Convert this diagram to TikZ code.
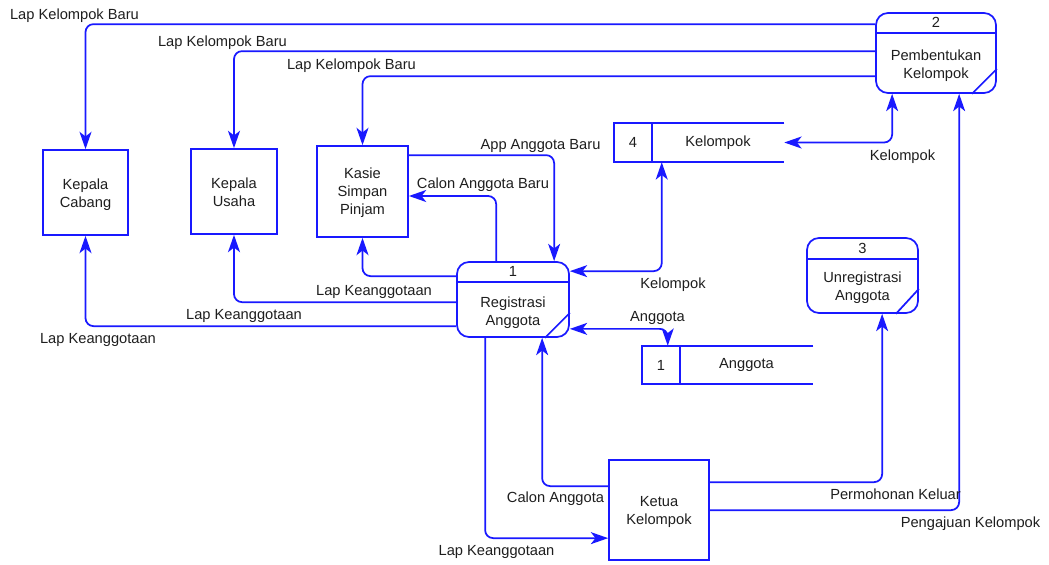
\documentclass[tikz,border=0pt]{standalone}
\usepackage{fontspec}
\setmainfont{Liberation Sans}
\usetikzlibrary{arrows.meta}
\definecolor{dfdblue}{RGB}{25,25,255}
\definecolor{dfdtext}{RGB}{30,30,30}
\begin{document}
\begin{tikzpicture}[x=0.75pt,y=-0.75pt,
  every node/.style={font=\fontsize{11}{13.5}\selectfont, text=dfdtext, inner sep=0pt},
  >={Stealth[length=13pt,width=9pt,inset=3.5pt]},
  flow/.style={draw=dfdblue, line width=1.3pt, rounded corners=6pt},
  edge/.style={draw=dfdblue, line width=1.3pt},
  entity/.style={draw=dfdblue, line width=1.3pt},
  proc/.style={draw=dfdblue, line width=1.3pt, rounded corners=9pt},
  lbl/.style={anchor=base},
]
\useasboundingbox (0,0) rectangle (1049,564);

% external entities
\node[entity, minimum width=63.75pt, minimum height=63.75pt] (kc) at (85.5,192.5) {};
\node[align=center] (kctxt) at ([shift={(0,2)}]kc.center) {Kepala\\Cabang};
\node[entity, minimum width=64.5pt, minimum height=63.75pt] (ku) at (234,191.5) {};
\node[align=center] (kutxt) at ([shift={(0,1)}]ku.center) {Kepala\\Usaha};
\node[entity, minimum width=68.25pt, minimum height=68.25pt] (ks) at (362.5,191.5) {};
\node[align=center] (kstxt) at ([shift={(0,1)}]ks.center) {Kasie\\Simpan\\Pinjam};
\node[entity, minimum width=75pt, minimum height=75pt] (kt) at (659,510) {};
\node[align=center] (kttxt) at ([shift={(0,2)}]kt.center) {Ketua\\Kelompok};

% process 2
\node[proc, minimum width=90pt, minimum height=60pt] (p2) at (936,53) {};
\draw[edge] ([shift={(0,21)}]p2.north west) -- ([shift={(0,21)}]p2.north east);
\draw[edge] ([shift={(0,-25)}]p2.south east) -- ([shift={(-25,0)}]p2.south east);
\node (p2num) at ([shift={(0,10.5)}]p2.north) {2};
\node[align=center] (p2txt) at ([shift={(0,-28)}]p2.south) {Pembentukan\\Kelompok};

% process 1
\node[proc, minimum width=84pt, minimum height=56.25pt] (p1) at (513,299.5) {};
\draw[edge] ([shift={(0,21)}]p1.north west) -- ([shift={(0,21)}]p1.north east);
\draw[edge] ([shift={(0,-25)}]p1.south east) -- ([shift={(-25,0)}]p1.south east);
\node (p1num) at ([shift={(0,10.5)}]p1.north) {1};
\node[align=center] (p1txt) at ([shift={(0,-25)}]p1.south) {Registrasi\\Anggota};

% process 3
\node[proc, minimum width=83.25pt, minimum height=56.25pt] (p3) at (862.5,275.5) {};
\draw[edge] ([shift={(0,22)}]p3.north west) -- ([shift={(0,22)}]p3.north east);
\draw[edge] ([shift={(0,-25)}]p3.south east) -- ([shift={(-23,0)}]p3.south east);
\node (p3num) at ([shift={(0,11)}]p3.north) {3};
\node[align=center] (p3txt) at ([shift={(0,-26)}]p3.south) {Unregistrasi\\Anggota};

% data store 4
\node[minimum width=127.5pt, minimum height=29.25pt] (s4) at (699,142.5) {};
\draw[edge] (s4.north east) -- (s4.north west) -- (s4.south west) -- (s4.south east);
\draw[edge] ([shift={(38,0)}]s4.north west) -- ([shift={(38,0)}]s4.south west);
\node (s4num) at (633,142.5) {4};
\node (s4txt) at (718,142.5) {Kelompok};

% data store 1
\node[minimum width=128.25pt, minimum height=28.5pt] (s1) at (727.5,365) {};
\draw[edge] (s1.north east) -- (s1.north west) -- (s1.south west) -- (s1.south east);
\draw[edge] ([shift={(38,0)}]s1.north west) -- ([shift={(38,0)}]s1.south west);
\node (s1num) at (661,365) {1};
\node (s1txt) at (746.5,365) {Anggota};

% data flows
\draw[flow,->] ([shift={(0,12)}]p2.north west) -| (kc.north);
\draw[flow,->] ([shift={(0,39)}]p2.north west) -| (ku.north);
\draw[flow,->] ([shift={(0,64)}]p2.north west) -| (ks.north);
\draw[flow,->] ([shift={(0,10)}]ks.north east) -| ([shift={(98,0)}]p1.north west);
\draw[flow,->] ([shift={(40,0)}]p1.north west) |- ([shift={(0,4.5)}]ks.east);
\draw[flow,->] ([shift={(0,15)}]p1.north west) -| (ks.south);
\draw[flow,->] ([shift={(0,41)}]p1.north west) -| (ku.south);
\draw[flow,->] ([shift={(0,65)}]p1.north west) -| (kc.south);
\draw[flow,<->] ([shift={(48,0)}]s4.south west) |- ([shift={(0,10)}]p1.north east);
\draw[flow,<->] (s4.east) -| ([shift={(17,0)}]p2.south west);
\draw[flow,<->] ([shift={(0,-9)}]p1.south east) -| ([shift={(26,0)}]s1.north west);
\draw[flow,->] ([shift={(0,27)}]kt.north west) -| ([shift={(86,0)}]p1.south west);
\draw[flow,->] ([shift={(29,0)}]p1.south west) |- ([shift={(0,79)}]kt.north west);
\draw[flow,->] ([shift={(0,23)}]kt.north east) -| ([shift={(76,0)}]p3.south west);
\draw[flow,->] ([shift={(0,51)}]kt.north east) -| ([shift={(84,0)}]p2.south west);

% flow labels
\node[lbl] (l1) at (74.5,19) {Lap Kelompok Baru};
\node[lbl] (l2) at (222.5,46) {Lap Kelompok Baru};
\node[lbl] (l3) at (351.5,69) {Lap Kelompok Baru};
\node[lbl] (l4) at (540.5,149) {App Anggota Baru};
\node[lbl] (l5) at (483,188) {Calon Anggota Baru};
\node[lbl] (l6) at (374,295) {Lap Keanggotaan};
\node[lbl] (l7) at (244,319) {Lap Keanggotaan};
\node[lbl] (l8) at (98,343) {Lap Keanggotaan};
\node[lbl] (l9) at (673,288) {Kelompok};
\node[lbl] (l10) at (902.5,160) {Kelompok};
\node[lbl] (l11) at (657.5,321) {Anggota};
\node[lbl] (l12) at (555.5,502) {Calon Anggota};
\node[lbl] (l13) at (496.5,555) {Lap Keanggotaan};
\node[lbl] (l14) at (895.5,499) {Permohonan Keluar};
\node[lbl] (l15) at (970.5,527) {Pengajuan Kelompok};
\end{tikzpicture}
\end{document}
